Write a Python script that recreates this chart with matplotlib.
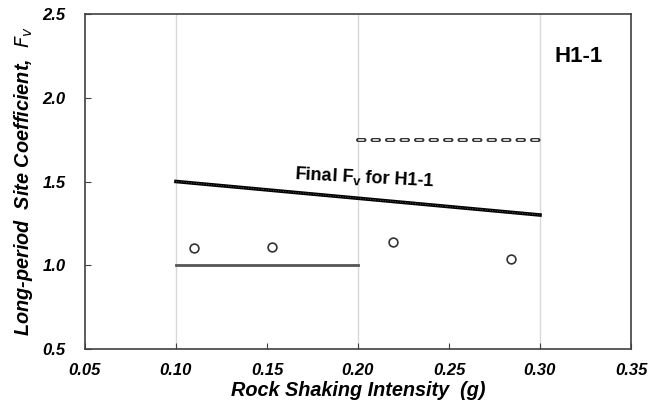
import matplotlib.pyplot as plt

plt.rcParams['font.family'] = ['Liberation Sans', 'DejaVu Sans']

# data
final_x = [0.10, 0.30]
final_y = [1.50, 1.30]
upper_x = [0.20, 0.30]
upper_y = [1.75, 1.75]
lower_x = [0.10, 0.20]
lower_y = [1.00, 1.00]
pts_x = [0.110, 0.153, 0.219, 0.284]
pts_y = [1.10, 1.11, 1.14, 1.04]

xticks = [0.05, 0.10, 0.15, 0.20, 0.25, 0.30, 0.35]
yticks = [0.5, 1.0, 1.5, 2.0, 2.5]

fig = plt.figure(figsize=(6.59, 4.09), dpi=100)
ax = fig.add_axes([85 / 659, 1 - 349 / 409, 546 / 659, 335 / 409])

for gx in [0.10, 0.20, 0.30]:
    ax.axvline(gx, color='#d9d9d9', lw=1, zorder=0)

ax.plot(final_x, final_y, color='black', lw=2.6, zorder=3)
ax.plot(final_x, final_y, color='#777777', lw=0.6, ls=(0, (1, 2)), zorder=4)

# outlined dashes: dark rounded dashes with a white core
ax.plot(upper_x, upper_y, color='#333333', lw=2.9, ls=(0, (1.61, 1.99)),
        dash_capstyle='round', zorder=3)
ax.plot(upper_x, upper_y, color='white', lw=1.1, ls=(9.32, (3.91, 5.58)),
        dash_capstyle='butt', zorder=4)

ax.plot(lower_x, lower_y, color='#555555', lw=2, zorder=3)

ax.scatter(pts_x, pts_y, s=40, facecolor='white', edgecolor='#333333',
           linewidth=1.2, zorder=5)

ax.text(0.165, 1.545, 'Final F$_\\mathregular{v}$ for H1-1', fontsize=13,
        fontweight='bold', rotation=-3, rotation_mode='anchor',
        ha='left', va='center')
ax.text(0.321, 2.245, 'H1-1', fontsize=16, fontweight='bold',
        ha='center', va='center')

ax.set_xlim(0.05, 0.35)
ax.set_ylim(0.5, 2.5)
ax.set_xticks(xticks)
ax.set_yticks(yticks)
ax.set_xticklabels(['%.2f' % v for v in xticks], fontsize=12,
                   fontweight='bold', fontstyle='italic')
ax.set_yticklabels(['%.1f' % v for v in yticks], fontsize=12,
                   fontweight='bold', fontstyle='italic')
ax.tick_params(direction='in', length=4, color='#404040')
ax.tick_params(axis='x', pad=10)
ax.tick_params(axis='y', pad=14)

for s in ax.spines.values():
    s.set_color('#404040')
    s.set_linewidth(1.2)

ax.set_xlabel('Rock Shaking Intensity  (g)', fontsize=14.3,
              fontweight='bold', fontstyle='italic', labelpad=2)
ax.set_ylabel('Long-period  Site Coefficient,  $\\mathbf{\\mathit{F_v}}$',
              fontsize=14.3, fontweight='bold', fontstyle='italic', labelpad=5)

fig.savefig('out.png', dpi=100)
